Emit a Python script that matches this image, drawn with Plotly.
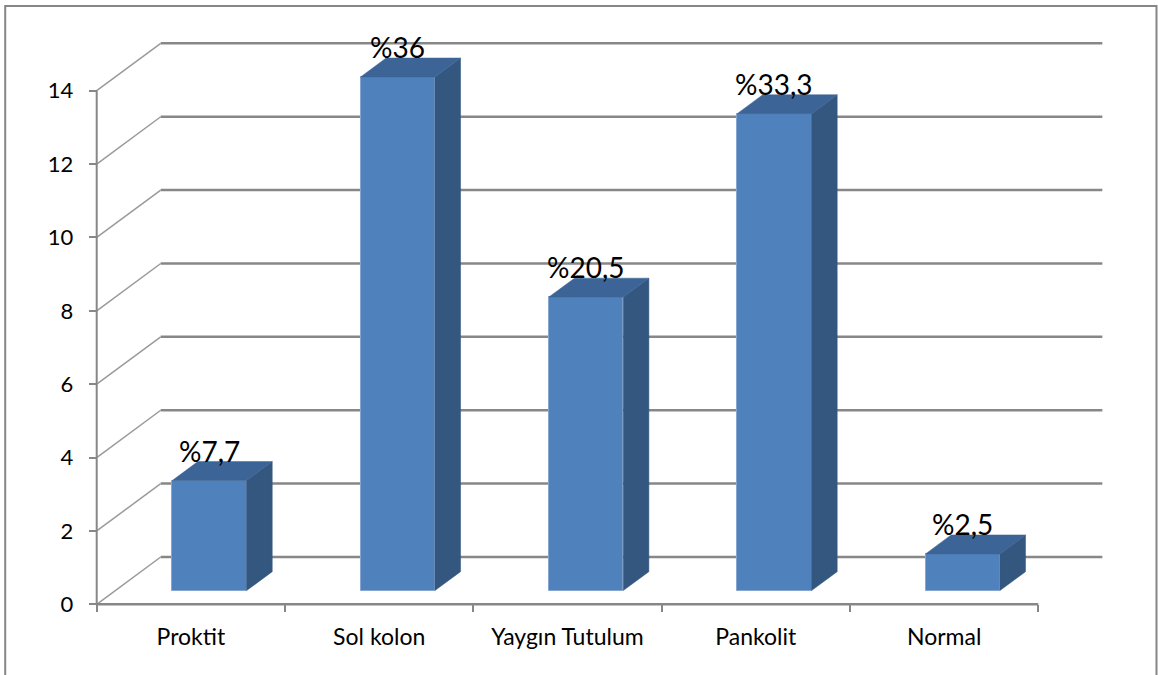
import plotly.graph_objects as go

# ---- data ----
categories = ["Proktit", "Sol kolon", "Yaygın Tutulum", "Pankolit", "Normal"]
counts = [3, 14, 8, 13, 1]
pct_labels = ["%7,7", "%36", "%20,5", "%33,3", "%2,5"]
y_ticks = [0, 2, 4, 6, 8, 10, 12, 14]

# ---- oblique "3-D" projection settings (axis units) ----
DEPTH_X = 0.34      # how far the back wall is shifted right (category units)
DEPTH_Y = 1.29      # how far the back wall is shifted up (value units)
BAR_FRONT = 0.29    # bar front face, as a fraction of the wall depth
BAR_BACK = 0.69     # bar back face, as a fraction of the wall depth
BAR_WIDTH = 0.395

X_RANGE = [-1.0135, 5.1356]
Y_RANGE = [-1.927, 16.472]

FRONT = "#4F81BD"
TOP = "#3C6496"
SIDE = "#34577F"
GRID = "#878787"
FONT = "Lato"

n = len(categories)
x_left, x_right = -0.5, n - 0.5
y_max = y_ticks[-1]

fig = go.Figure()

# ---- walls: back-wall gridlines, side-wall diagonals ----
shapes = []
for v in y_ticks:
    shapes.append(dict(type="line", layer="below",
                       x0=x_left + DEPTH_X, y0=v + DEPTH_Y,
                       x1=x_right + DEPTH_X, y1=v + DEPTH_Y,
                       line=dict(color=GRID, width=2.5)))
    shapes.append(dict(type="line", layer="below",
                       x0=x_left, y0=v,
                       x1=x_left + DEPTH_X, y1=v + DEPTH_Y,
                       line=dict(color="#9a9a9a", width=1.5)))
# axis lines
shapes.append(dict(type="line", layer="below", x0=x_left, y0=0, x1=x_left, y1=y_max,
                   line=dict(color=GRID, width=2)))
shapes.append(dict(type="line", layer="below", x0=x_left, y0=0, x1=x_right, y1=0,
                   line=dict(color=GRID, width=2.5)))
# outer chart border
shapes.append(dict(type="rect", xref="paper", yref="paper",
                   x0=0.0045, y0=-0.02, x1=0.9987, y1=0.991,
                   line=dict(color="#868686", width=2), fillcolor="rgba(0,0,0,0)"))

# ---- bars: front faces ----
x0_off = BAR_FRONT * DEPTH_X
base = BAR_FRONT * DEPTH_Y
bar_x = [i + x0_off for i in range(n)]
fig.add_trace(go.Bar(
    x=bar_x, y=counts, base=base, width=BAR_WIDTH,
    marker=dict(color=FRONT, line=dict(color="#86a6d0", width=1)),
    hoverinfo="skip", showlegend=False,
))

# ---- bars: top and side faces ----
ddx = (BAR_BACK - BAR_FRONT) * DEPTH_X
ddy = (BAR_BACK - BAR_FRONT) * DEPTH_Y
top_x, top_y, side_x, side_y = [], [], [], []
for cx, v in zip(bar_x, counts):
    xl, xr = cx - BAR_WIDTH / 2, cx + BAR_WIDTH / 2
    yt = base + v
    top_x += [xl, xr, xr + ddx, xl + ddx, xl, None]
    top_y += [yt, yt, yt + ddy, yt + ddy, yt, None]
    side_x += [xr, xr, xr + ddx, xr + ddx, xr, None]
    side_y += [base, yt, yt + ddy, base + ddy, base, None]

fig.add_trace(go.Scatter(x=side_x, y=side_y, mode="lines", fill="toself",
                         fillcolor=SIDE, line=dict(color=SIDE, width=0.5),
                         hoverinfo="skip", showlegend=False))
fig.add_trace(go.Scatter(x=top_x, y=top_y, mode="lines", fill="toself",
                         fillcolor=TOP, line=dict(color=TOP, width=0.5),
                         hoverinfo="skip", showlegend=False))

# ---- value labels ----
annotations = []
for cx, v, lab in zip(bar_x, counts, pct_labels):
    annotations.append(dict(x=cx, y=base + v, text=lab, showarrow=False,
                            yanchor="middle", yshift=30,
                            font=dict(family=FONT, size=28, color="#000000")))

def frac(val, rng):
    return (val - rng[0]) / (rng[1] - rng[0])

fig.update_layout(
    width=1158, height=675,
    margin=dict(l=0, r=0, t=0, b=0),
    paper_bgcolor="white", plot_bgcolor="white",
    shapes=shapes, annotations=annotations,
    bargap=0,
    xaxis=dict(range=X_RANGE, domain=[0, 1], anchor="free",
               position=frac(0, Y_RANGE),
               showgrid=False, zeroline=False, showline=False,
               tickmode="array", tickvals=list(range(n)), ticktext=categories,
               ticks="", ticklabelstandoff=17,
               tickfont=dict(family=FONT, size=23, color="#000000"),
               minor=dict(tickmode="array",
                          tickvals=[i - 0.5 for i in range(n + 1)],
                          ticks="outside", ticklen=7, tickwidth=2, tickcolor=GRID)),
    yaxis=dict(range=Y_RANGE, domain=[0, 1], anchor="free",
               position=frac(x_left, X_RANGE),
               showgrid=False, zeroline=False, showline=False,
               tickmode="array", tickvals=y_ticks,
               ticks="outside", ticklen=8, tickwidth=2, tickcolor=GRID,
               ticklabelstandoff=11,
               tickfont=dict(family=FONT, size=22, color="#000000")),
)

fig.write_html("out.html")
